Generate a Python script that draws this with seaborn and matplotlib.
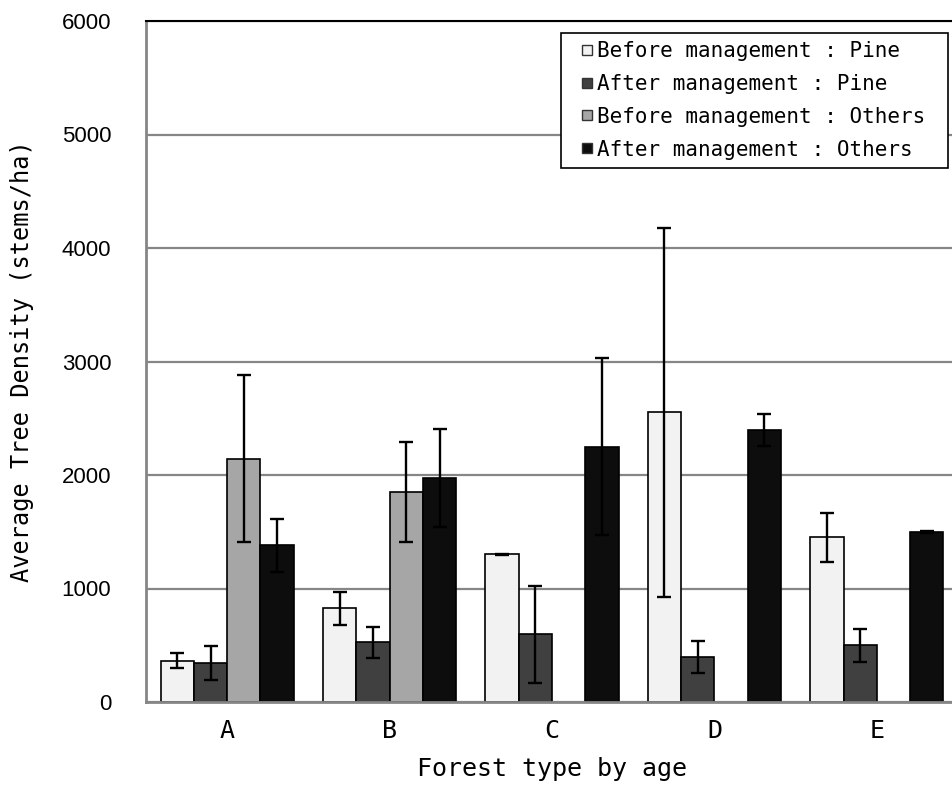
import numpy as np
import pandas as pd
import matplotlib
matplotlib.use("Agg")
import matplotlib.pyplot as plt
from matplotlib.patches import Patch, Rectangle
from matplotlib.legend_handler import HandlerPatch
import seaborn as sns

# Stand density by forest type (stems/ha), mean and error half-width
categories = ["A", "B", "C", "D", "E"]
series = [
    "Before management : Pine",
    "After management : Pine",
    "Before management : Others",
    "After management : Others",
]
before_pine = [362, 824, 1303, 2551, 1451]
before_pine_err = [66, 145, 5, 1627, 215]
after_pine = [344, 527, 597, 397, 498]
after_pine_err = [150, 137, 427, 143, 143]
before_others = [2142, 1853, np.nan, np.nan, np.nan]
before_others_err = [735, 441, np.nan, np.nan, np.nan]
after_others = [1380, 1974, 2248, 2398, 1495]
after_others_err = [232, 435, 780, 141, 8]

y_ticks = [0, 1000, 2000, 3000, 4000, 5000, 6000]
x_title = "Forest type by age"
y_title = "Average Tree Density (stems/ha)"

colors = ["#f2f2f2", "#404040", "#a6a6a6", "#0d0d0d"]

values = [before_pine, after_pine, before_others, after_others]
errors = [before_pine_err, after_pine_err, before_others_err, after_others_err]

rows = []
for name, vals in zip(series, values):
    for cat, v in zip(categories, vals):
        rows.append({"type": cat, "series": name, "density": v})
df = pd.DataFrame(rows).dropna()
err_lookup = {name: dict(zip(categories, errs)) for name, errs in zip(series, errors)}

sns.set_style("white")
plt.rcParams["font.family"] = ["DejaVu Sans Mono"]
plt.rcParams["text.color"] = "black"
plt.rcParams["axes.labelcolor"] = "black"
plt.rcParams["xtick.color"] = "black"
plt.rcParams["ytick.color"] = "black"

fig = plt.figure(figsize=(9.52, 7.94), dpi=100)
ax = fig.add_axes([146 / 952, 1 - 702 / 794, (958 - 146) / 952, (702 - 21) / 794])

sns.barplot(
    data=df, x="type", y="density", hue="series",
    order=categories, hue_order=series, palette=colors,
    width=0.82, saturation=1, errorbar=None, legend=False,
    edgecolor="black", linewidth=1.2, ax=ax,
)

# error bars centred on each drawn bar
for name, cont in zip(series, ax.containers):
    for bar in cont:
        h = bar.get_height()
        if not np.isfinite(h):
            continue
        cx = bar.get_x() + bar.get_width() / 2
        cat = categories[int(round(cx))]
        ax.errorbar(cx, h, yerr=err_lookup[name][cat], fmt="none",
                    ecolor="black", elinewidth=1.7, capsize=5, capthick=1.7, zorder=5)

ax.set_xlim(-0.5, 4.5)
ax.set_ylim(0, 6000)
ax.set_yticks(y_ticks)
ax.yaxis.grid(True, color="#868686", linewidth=1.6)
ax.set_axisbelow(True)

for side in ["left", "bottom"]:
    ax.spines[side].set_color("#868686")
    ax.spines[side].set_linewidth(2)
ax.spines["top"].set_color("black")
ax.spines["top"].set_linewidth(1.5)
ax.spines["right"].set_visible(False)

ax.tick_params(axis="x", length=0, pad=12, labelsize=18, labelcolor="black")
ax.tick_params(axis="y", length=3, width=1.2, color="#868686", pad=22,
               labelsize=16, labelcolor="black")
for lbl in ax.get_yticklabels():
    lbl.set_fontfamily("Liberation Sans")

ax.set_xlabel(x_title, fontsize=18, labelpad=10, color="black")
ax.set_ylabel(y_title, fontsize=17, labelpad=20, color="black")


def small_square(legend, orig_handle, xdescent, ydescent, width, height, fontsize):
    # small square marker sitting at the right end of the handle slot
    s = 10 * 72 / 100
    return Rectangle((-xdescent + width - s, -ydescent + (height - s) / 2), s, s)


handles = [Patch(facecolor=c, edgecolor="#333333", linewidth=1.0) for c in colors]
leg = ax.legend(
    handles, series, loc="upper left", mode="expand",
    bbox_to_anchor=(561 / 952, 1 - 168 / 794, 387 / 952, 135 / 794),
    bbox_transform=fig.transFigure,
    fontsize=15, frameon=True, fancybox=False, framealpha=1,
    edgecolor="black", borderpad=0.38, labelspacing=0.62,
    handlelength=1.1, handleheight=0.7, handletextpad=0.24, borderaxespad=0,
    handler_map={Patch: HandlerPatch(patch_func=small_square)},
)
leg.get_frame().set_linewidth(1.2)

fig.savefig("out.png", dpi=100)
